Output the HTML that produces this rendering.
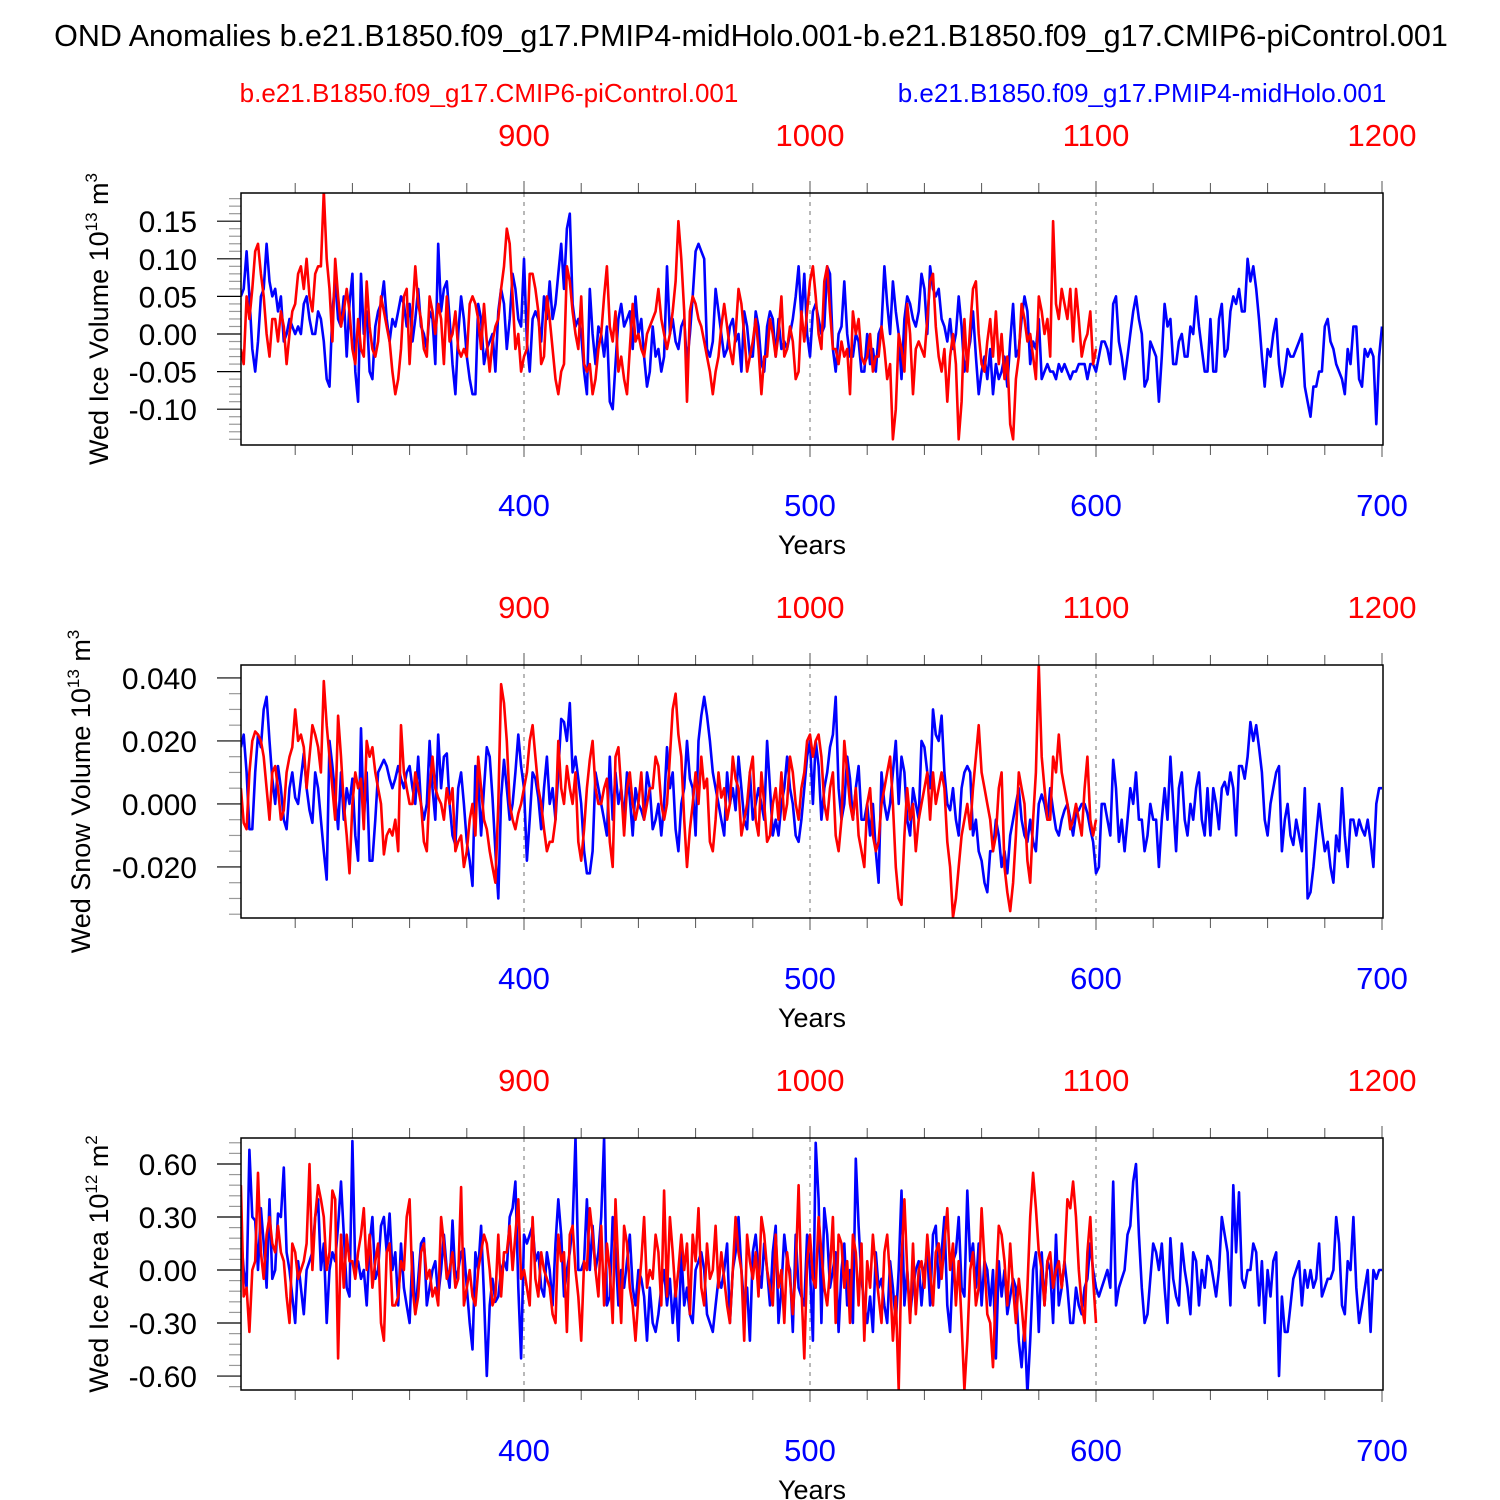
<!DOCTYPE html>
<html><head><meta charset="utf-8"><style>
html,body{margin:0;padding:0;background:#fff}
svg{display:block;font-family:"Liberation Sans",sans-serif}
</style></head><body>
<svg id="chart" width="1500" height="1500" viewBox="0 0 1500 1500" xmlns="http://www.w3.org/2000/svg">
<text x="751" y="46" font-size="30.5" text-anchor="middle">OND Anomalies b.e21.B1850.f09_g17.PMIP4-midHolo.001-b.e21.B1850.f09_g17.CMIP6-piControl.001</text>
<text x="489" y="102" font-size="26" fill="#ff0000" text-anchor="middle">b.e21.B1850.f09_g17.CMIP6-piControl.001</text>
<text x="1142" y="102" font-size="26" fill="#0000ff" text-anchor="middle">b.e21.B1850.f09_g17.PMIP4-midHolo.001</text>
</svg>
<script>
// panel 1: Ice volume (units of 0.01 x 10^13 m^3), blue years 301-700, red years 801-1100
const iceVolBlue=[5,6,11,5,-2,-5,-1,5,6,12,7,5,6,3,5,-1,0,2,1,0,
1,0,4,5,2,0,0,3,2,-1,-6,-7,3,7,2,1,5,-3,4,8,
-5,-9,8,0,3,-5,-6,1,3,4,7,2,-1,2,1,3,5,4,1,4,
-1,2,6,1,0,-2,3,2,-4,12,3,6,7,2,-4,-8,0,5,2,-3,
-6,-8,-8,4,2,-4,-2,-1,0,-5,3,6,4,-2,2,8,6,2,1,10,
-1,-5,2,3,2,-1,5,2,7,2,4,8,12,6,14,16,4,1,2,0,
-5,-8,6,0,-4,1,0,-3,1,-9,-10,-4,2,4,1,2,3,-2,5,0,
2,-3,-7,-5,1,-3,-2,-5,-3,9,0,2,-1,-2,1,2,-4,0,5,11,
12,11,10,-2,-3,-1,6,3,0,-3,-2,1,2,-1,0,-5,3,1,-3,-3,
3,1,-4,-5,1,3,2,-3,2,-2,-1,-2,0,2,5,9,2,8,0,-3,
3,4,2,0,1,9,8,-2,-5,0,1,7,0,-3,-3,0,-1,-5,-5,0,
-4,-2,-5,0,1,9,4,0,7,3,0,-6,2,5,4,2,1,3,8,6,
0,9,6,5,6,2,1,-1,2,-2,0,5,1,-5,-3,-1,3,-3,-8,-5,
-3,-6,-2,-8,-4,-6,-5,-3,-7,-1,4,-3,-2,2,5,3,-4,-1,-2,2,
-6,-5,-4,-5,-5,-6,-4,-5,-4,-5,-6,-5,-5,-4,-4,-4,-6,-4,-4,-5,
-3,-1,-1,-2,-4,4,5,-1,-3,-6,-3,0,3,5,2,0,-7,-6,-1,-2,
-3,-9,-3,4,1,2,-4,-4,-1,0,-3,-3,1,0,5,1,-2,-5,-5,2,
-5,-5,2,4,-3,-2,3,5,4,6,3,3,10,7,9,6,2,-3,-7,-2,
-3,0,2,-4,-7,-5,-2,-3,-3,-2,-1,0,-7,-9,-11,-7,-7,-5,-5,1,
2,-1,-2,-4,-5,-6,-8,-2,-4,1,1,-6,-7,-2,-3,-2,-3,-12,-3,1];
const iceVolRed=[-2,-4,5,2,6,11,12,8,5,0,-3,2,2,-1,3,1,-4,0,3,4,
8,9,6,10,5,3,8,9,9,19,10,6,-1,10,5,1,3,6,3,-2,
-4,2,-2,-3,7,1,-2,-3,-1,5,3,1,-1,-5,-8,-6,-2,5,6,-4,
3,9,4,2,-2,-3,5,3,0,4,2,-4,5,-1,0,3,-2,-3,-2,-3,
4,5,4,2,-2,4,-1,-5,-1,1,2,6,9,14,12,5,-2,0,-5,-3,
-2,8,8,6,3,-4,-3,5,2,-2,-6,-8,-5,-4,9,7,3,0,-2,5,
-4,-5,-4,-8,-6,-2,0,5,9,1,-1,3,-5,-3,-6,-8,-2,4,-1,0,
-2,-3,0,1,2,3,6,2,0,-2,0,3,7,15,10,3,-9,3,5,4,
2,1,-1,-3,-5,-8,-5,-3,1,4,1,-2,-4,0,6,4,0,-5,-3,-1,
2,-2,-8,-3,-3,2,0,-3,0,5,-3,-2,1,-1,-6,-5,3,-1,3,7,
9,5,0,-2,7,9,3,-2,-2,-4,-1,-3,-2,-8,3,0,2,-3,-4,-3,
0,-5,-3,-3,1,-2,-6,-4,-14,-10,0,-2,-5,4,0,-8,-2,-1,-2,-3,
2,7,8,1,-3,-5,-2,-9,-3,0,-4,-14,-9,2,-5,1,6,7,0,-4,
-5,-1,2,-3,3,-4,0,-6,-3,-12,-14,-6,-3,4,2,-1,0,-3,-6,5,
3,0,2,-3,15,4,2,6,4,2,6,-1,6,2,-3,-1,0,3,-4,-2];
// panel 2: Snow volume (units of 0.001 x 10^13 m^3)
const snowVolBlue=[18,22,10,-8,-8,10,22,18,30,34,20,8,0,12,5,-5,-8,5,10,2,
0,8,16,5,-2,-6,10,5,-5,-15,-24,20,12,3,-8,10,-5,5,0,8,
-10,-18,24,-5,10,-18,-18,-5,10,12,14,12,8,5,8,12,8,5,10,12,
5,0,15,0,-5,0,20,5,-5,22,5,15,16,0,-10,-13,5,10,0,-12,
-18,-26,12,8,-10,5,18,15,2,-15,-30,2,14,5,-5,0,10,22,12,5,
-18,-5,10,8,2,-8,5,15,0,5,-5,10,27,26,20,32,10,15,8,0,
-15,-22,-22,-15,10,5,0,-5,-10,15,-5,10,0,5,-5,10,2,-10,5,0,
-2,-5,10,5,-8,-5,0,-10,0,18,5,10,-8,-15,0,5,20,8,5,-10,
20,28,34,28,20,10,5,0,-5,-10,10,0,5,-2,15,5,-5,-8,10,-5,
0,5,0,-5,20,5,-10,-5,-10,0,5,15,5,0,-10,-12,-5,5,15,20,
0,20,12,-5,5,10,18,22,34,5,-5,0,15,8,-5,5,12,-5,-5,0,
-10,0,-15,-25,10,0,-5,0,10,20,0,15,10,-5,-10,5,0,-5,20,18,
10,5,30,22,20,28,10,0,-2,5,-5,-10,5,10,12,10,-10,-5,-15,-18,
-25,-28,-15,-15,-5,-10,-20,-15,-22,-10,-5,0,5,-5,-10,-12,-5,-12,-15,0,
3,0,-5,5,-2,-8,-10,-5,-2,0,-5,-10,-3,-2,0,0,-3,-8,-12,-22,
-20,0,0,-5,-10,14,5,-12,-5,-15,-5,5,0,10,-5,-5,-15,-10,0,-5,
-5,-20,-5,5,-5,15,0,-15,5,10,-5,-10,0,-5,5,10,-5,-10,5,-10,
5,0,-8,5,7,3,10,5,-10,12,12,8,15,26,20,25,18,10,-5,-10,
0,5,10,12,-15,-5,0,-10,-13,-5,-10,-15,5,-30,-28,-20,-10,0,-8,-15,
-12,-20,-25,-10,-15,5,-10,-20,-5,-5,-10,-5,-8,-10,-5,-12,-20,0,5,5];
const snowVolRed=[5,-6,-8,10,20,23,22,20,15,5,-5,10,12,5,-5,-2,10,15,18,30,
20,22,18,5,15,25,22,18,10,39,25,15,5,-5,28,15,0,-10,-22,0,
10,5,8,-8,20,15,18,10,5,0,-16,-10,-8,-10,-5,-15,25,10,5,0,
0,10,5,0,-12,-15,5,15,5,2,0,-5,5,0,5,-15,-12,-10,-20,-15,
-5,0,-10,15,5,-5,-8,-15,-20,-25,0,38,32,20,0,-5,-8,-3,0,5,
10,20,25,15,5,0,-8,-15,-12,-12,-5,20,5,0,12,5,0,10,-12,-18,
-8,5,14,20,5,0,0,5,8,-12,-20,15,18,5,-10,5,10,0,-5,0,
10,-5,0,5,5,15,12,0,-5,0,15,30,35,22,15,-5,-20,-8,0,10,
0,15,5,8,-12,-15,-5,10,2,5,-5,0,15,8,5,-10,-5,0,10,15,
-5,-10,10,0,-12,-10,0,5,-5,10,-5,0,15,10,0,-5,5,10,20,22,
15,20,22,15,0,-5,5,10,-10,-15,-5,20,10,0,-5,5,-10,-15,-20,0,
5,-10,-15,-12,0,5,10,15,0,-20,-30,-32,-10,5,-5,0,-15,-5,0,5,
10,-5,10,0,5,10,5,-12,-20,-36,-30,-20,-10,-5,0,-8,5,15,25,10,
5,0,-5,-15,-10,5,10,-20,-28,-34,-25,-10,10,5,0,-18,-25,-5,10,44,
15,5,-5,-5,15,10,22,10,5,0,-8,-5,0,-5,-10,5,15,-5,-10,-5];
// panel 3: Ice area (units of 0.01 x 10^12 m^2)
const iceAreaBlue=[20,0,-10,68,30,28,0,35,15,-10,40,-5,0,32,30,58,10,0,-15,-30,
5,-10,-25,0,5,10,30,40,0,15,-30,0,10,5,25,50,20,-10,-15,73,
0,5,-5,0,-20,15,30,-5,0,25,30,10,32,0,10,-20,15,-10,-20,-30,
10,-25,-5,15,18,-20,-10,0,5,-15,0,20,0,-10,28,-5,0,10,12,-10,
-30,-45,10,0,25,-15,-60,-20,-5,-18,-15,0,5,0,30,35,50,-10,-50,20,
15,20,25,5,10,-10,-15,10,0,-20,15,40,20,-15,0,10,25,75,0,0,
5,40,0,25,0,10,30,75,-20,-15,30,10,-20,0,-10,5,20,-10,-20,0,
-5,-15,-40,-10,-30,-35,-25,-10,0,-20,-5,-30,-10,-40,10,-20,-10,-25,-30,0,
5,10,0,-25,-30,-35,-20,-5,-10,0,15,-30,0,10,30,0,-20,-10,-40,10,
20,0,-10,15,0,-20,10,25,-30,-10,20,5,0,-35,20,-10,-15,-20,20,0,
-40,72,40,-30,35,20,-10,0,10,-35,0,15,-20,0,-30,63,25,-5,-20,-30,
-15,-35,10,-10,-5,-20,-30,5,-10,-30,0,45,-20,0,-25,-10,0,5,-20,0,
10,-20,20,25,-10,10,30,-20,-35,5,10,30,-10,-15,45,5,15,-10,15,-20,
5,0,-20,0,-50,5,-15,0,-25,-15,-5,-10,-40,-55,-30,-70,-40,0,10,-35,
10,-20,5,0,-30,20,-20,-10,5,-10,-30,-30,-10,-20,-25,-10,-5,15,0,-10,
-15,-10,-5,0,-10,50,-20,-10,-5,0,20,25,50,60,20,-10,-30,-25,-5,15,
10,0,15,-10,-30,18,-5,-15,-20,15,0,-10,-25,10,5,-20,0,-10,8,5,
-5,-15,0,30,20,10,-20,48,10,44,-5,-10,0,0,15,10,-20,5,-30,0,
-15,5,10,-60,-15,-35,-35,-20,-5,0,5,-20,0,-10,0,-10,-5,15,-15,-10,
-5,-5,0,30,15,-20,-25,5,0,30,-10,-30,-20,-10,0,-35,0,-5,0,0];
const iceAreaRed=[48,-15,-10,-35,0,5,55,10,-5,20,30,15,10,25,10,5,-15,-30,15,10,
-5,0,5,15,60,0,30,48,40,30,0,10,45,40,-50,20,-10,20,5,5,
-5,10,20,35,0,20,-10,5,15,-30,-40,10,15,-20,-20,-15,5,0,30,40,
-10,-25,-15,10,15,-5,0,-15,-10,-20,30,15,-5,0,10,-10,-5,47,-20,-10,
0,-15,-20,0,10,20,15,0,-20,-15,20,-15,10,10,25,0,20,40,-5,0,
-10,-20,30,-5,-15,10,0,-5,-10,-25,-30,20,5,10,-35,20,25,0,-15,-40,
5,0,35,20,0,-15,25,-20,15,0,-30,40,0,-30,25,15,-10,-20,-40,-15,
5,30,-10,0,-5,20,10,-20,45,-15,30,10,-15,0,20,0,15,-25,20,5,
35,-10,-20,15,-5,0,25,-10,10,-5,-20,-30,0,30,10,0,-40,20,5,-5,
10,-15,30,20,0,-10,-20,20,-10,0,-30,10,-5,-25,0,48,-10,-50,5,20,
-5,-10,30,10,-10,-20,0,30,-30,20,15,-10,5,-30,20,10,-20,15,-40,5,
-10,20,0,-15,-30,10,20,-5,-40,-15,-68,5,40,0,-30,15,-25,0,5,-10,
20,0,-20,10,15,-5,15,35,0,15,-20,5,-30,-68,-40,0,10,-20,-10,35,
5,-25,-30,-55,-10,25,20,5,-20,15,-10,-30,-5,-20,-40,-10,30,55,35,10,
0,-20,5,10,-10,0,5,-10,5,40,35,50,30,0,-20,-30,10,30,-5,-30];
const bottomTicks=["400","500","600","700"];
const topTicks=["900","1000","1100","1200"];
const p1Ticks=["-0.10","-0.05","0.00","0.05","0.10","0.15"];
const p2Ticks=["-0.020","0.000","0.020","0.040"];
const p3Ticks=["-0.60","-0.30","0.00","0.30","0.60"];

const NS="http://www.w3.org/2000/svg";
const svg=document.getElementById('chart');
const L=241,R=1383;
function xB(y){return 524+(y-400)*(810-524)/100;}
function xR(y){return 524+(y-900)*(810-524)/100;}
function mk(tag,attrs,parent){const e=document.createElementNS(NS,tag);for(const k in attrs)e.setAttribute(k,attrs[k]);(parent||svg).appendChild(e);return e;}

const panels=[
 {top:193,bot:445,vmax:0.1875,vmin:-0.1476,scale:0.01,blue:iceVolBlue,red:iceVolRed,ticks:p1Ticks,minor:0.01,title:"Wed Ice Volume 10",exp:"13",unit:" m",uexp:"3",name:"ice-volume",tx:108},
 {top:665,bot:918,vmax:0.0441,vmin:-0.0362,scale:0.001,blue:snowVolBlue,red:snowVolRed,ticks:p2Ticks,minor:0.005,title:"Wed Snow Volume 10",exp:"13",unit:" m",uexp:"3",name:"snow-volume",tx:90},
 {top:1138,bot:1390,vmax:0.747,vmin:-0.679,scale:0.01,blue:iceAreaBlue,red:iceAreaRed,ticks:p3Ticks,minor:0.06,title:"Wed Ice Area 10",exp:"12",unit:" m",uexp:"2",name:"ice-area",tx:108}
];
panels.forEach((p,pi)=>{
 const g=mk('g',{});
 
 
 const yv=v=>p.bot-(v-p.vmin)/(p.vmax-p.vmin)*(p.bot-p.top);
 [400,500,600].forEach(y=>{const l=mk('line',{x1:xB(y),x2:xB(y),y1:p.top,y2:p.bot,stroke:'#888','stroke-width':1.2,'stroke-dasharray':'4,5'},g);
  });
 const step=parseFloat(p.ticks[1])-parseFloat(p.ticks[0]);
 for(let v=Math.ceil(p.vmin/p.minor-1e-6)*p.minor;v<=p.vmax+1e-9;v+=p.minor){
  const major=Math.abs(v/step-Math.round(v/step))<1e-4;
  mk('line',{x1:L-(major?24:12),x2:L,y1:yv(v),y2:yv(v),stroke:major?'#000':'#999','stroke-width':1.2},g);
 }
 p.ticks.forEach(t=>{const e=mk('text',{x:L-44,y:yv(parseFloat(t))+11,'font-size':30,'text-anchor':'end'},g);e.textContent=t;
  });
 for(let y=320;y<=700;y+=20){const x=xB(y);const major=y%100===0;
  mk('line',{x1:x,x2:x,y1:p.bot,y2:p.bot+(major?12:10),stroke:'#555','stroke-width':1},g);
  mk('line',{x1:x,x2:x,y1:p.top,y2:p.top-(major?12:10),stroke:'#555','stroke-width':1},g);}
 bottomTicks.forEach(t=>{const e=mk('text',{x:xB(+t),y:p.bot+71,'font-size':31,fill:'#0000ff','text-anchor':'middle'},g);e.textContent=t;
  });
 topTicks.forEach(t=>{const e=mk('text',{x:xR(+t),y:p.top-47,'font-size':31,fill:'#ff0000','text-anchor':'middle'},g);e.textContent=t;
  });
 const xt=mk('text',{x:812,y:p.bot+109,'font-size':27,'text-anchor':'middle'},g);xt.textContent='Years';
 
 const cy=(p.top+p.bot)/2;
 const yt=mk('text',{x:0,y:0,'font-size':27,'text-anchor':'middle',transform:`translate(${p.tx},${cy}) rotate(-90)`},g);
 
 yt.appendChild(document.createTextNode(p.title));
 const s1=mk('tspan',{dy:-11,'font-size':17},yt);s1.textContent=p.exp;
 const s2=mk('tspan',{dy:11},yt);s2.textContent=p.unit;
 const s3=mk('tspan',{dy:-11,'font-size':17},yt);s3.textContent=p.uexp;
 const clipId='clip'+pi;
 const cp=mk('clipPath',{id:clipId},g);mk('rect',{x:L,y:p.top,width:R-L,height:p.bot-p.top},cp);
 const blueP=p.blue.map((v,i)=>xB(301+i).toFixed(1)+','+yv(v*p.scale).toFixed(1)).join(' ');
 const redP=p.red.map((v,i)=>xR(801+i).toFixed(1)+','+yv(v*p.scale).toFixed(1)).join(' ');
 const bl=mk('polyline',{points:blueP,fill:'none',stroke:'#0000ff','stroke-width':2.6,'stroke-linejoin':'round','clip-path':`url(#${clipId})`},g);
 
 const rl=mk('polyline',{points:redP,fill:'none',stroke:'#ff0000','stroke-width':2.6,'stroke-linejoin':'round','clip-path':`url(#${clipId})`},g);
 
 const fr=mk('rect',{x:L,y:p.top,width:R-L,height:p.bot-p.top,fill:'none',stroke:'#000','stroke-width':1.5},g);
 
});
</script>
</body></html>
